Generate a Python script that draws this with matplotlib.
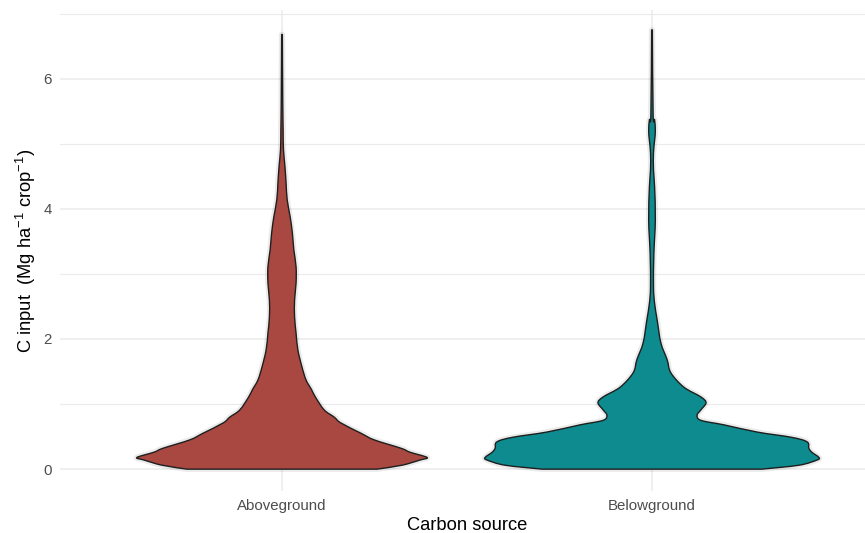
import matplotlib.pyplot as plt
import numpy as np
from matplotlib.path import Path
from matplotlib.patches import PathPatch

plt.rcParams['font.family'] = ['Liberation Sans', 'DejaVu Sans']
plt.rcParams['mathtext.fontset'] = 'custom'
plt.rcParams['mathtext.rm'] = 'Liberation Sans'
plt.rcParams['mathtext.it'] = 'Liberation Sans:italic'

categories = ['Aboveground', 'Belowground']
fill_colors = ['#A94841', '#0D8B8F']

# violin outlines: C input vs half-width (category units)
above_y = [0.00, 0.06, 0.14, 0.18, 0.26, 0.32, 0.45, 0.55, 0.71, 0.80, 0.91,
           1.11, 1.22, 1.37, 1.57, 1.83, 2.09, 2.34, 2.60, 2.86, 3.11, 3.37,
           3.63, 3.88, 4.14, 4.40, 4.65, 4.91, 5.22, 5.68, 6.68]
above_w = [0.257, 0.324, 0.373, 0.392, 0.346, 0.322, 0.249, 0.214, 0.159, 0.141, 0.114,
           0.090, 0.080, 0.065, 0.054, 0.043, 0.038, 0.034, 0.034, 0.038, 0.038, 0.032,
           0.028, 0.022, 0.014, 0.011, 0.008, 0.004, 0.003, 0.002, 0.001]

below_y = [0.00, 0.06, 0.14, 0.18, 0.26, 0.32, 0.42, 0.49, 0.57, 0.68, 0.75,
           0.83, 0.91, 1.02, 1.11, 1.26, 1.48, 1.68, 1.94, 2.29, 2.55, 2.80,
           3.30, 3.83, 4.34, 4.60, 4.86, 5.05, 5.20, 5.37, 5.45, 6.75]
below_w = [0.297, 0.397, 0.446, 0.451, 0.432, 0.424, 0.419, 0.376, 0.284, 0.195, 0.132,
           0.122, 0.132, 0.146, 0.132, 0.086, 0.051, 0.041, 0.024, 0.014, 0.007, 0.004,
           0.005, 0.009, 0.007, 0.004, 0.004, 0.007, 0.009, 0.007, 0.003, 0.001]

profiles = [(above_y, above_w), (below_y, below_w)]


def smooth_segments(pts):
    # catmull-rom through the points, as cubic bezier pieces
    ext = np.vstack([pts[:1], pts, pts[-1:]])
    verts = []
    for k in range(1, len(ext) - 2):
        p0, p1, p2, p3 = ext[k - 1], ext[k], ext[k + 1], ext[k + 2]
        verts += [p1 + (p2 - p0) / 6, p2 - (p3 - p1) / 6, p2]
    return verts


def violin_path(pos, ys, ws):
    ys = np.asarray(ys)
    ws = np.asarray(ws)
    right = np.column_stack([pos + ws, ys])
    left = np.column_stack([pos - ws[::-1], ys[::-1]])
    r_seg = smooth_segments(right)
    l_seg = smooth_segments(left)
    verts = [right[0]] + r_seg + [left[0]] + l_seg + [right[0]]
    codes = ([Path.MOVETO] + [Path.CURVE4] * len(r_seg) + [Path.LINETO]
             + [Path.CURVE4] * len(l_seg) + [Path.CLOSEPOLY])
    return Path(verts, codes)


fig = plt.figure(figsize=(8.65, 5.33), dpi=100)
ax = fig.add_axes([60 / 865, 42 / 533, 814 / 865, 481 / 533])

for i, (ys, ws) in enumerate(profiles):
    path = violin_path(i + 1, ys, ws)
    # soft halo from the jittered points
    ax.add_patch(PathPatch(path, facecolor='none', edgecolor=(0, 0, 0, 0.08),
                           linewidth=4, joinstyle='round', zorder=2))
    ax.add_patch(PathPatch(path, facecolor=fill_colors[i], edgecolor='#1e1e1e',
                           linewidth=1.0, joinstyle='round', zorder=3))

ax.set_xlim(0.4, 2.6)
ax.set_ylim(-0.336, 7.056)
ax.set_xticks([1, 2])
ax.set_xticklabels(categories)
ax.set_yticks([0, 2, 4, 6])
ax.set_yticks([1, 3, 5, 7], minor=True)

ax.grid(True, which='major', color='#EBEBEB', linewidth=1.1, zorder=0)
ax.grid(True, which='minor', axis='y', color='#EBEBEB', linewidth=0.8, zorder=0)
ax.set_axisbelow(True)
for s in ax.spines.values():
    s.set_visible(False)
ax.tick_params(which='both', length=0, labelsize=10.8, labelcolor='#4D4D4D')
ax.tick_params(axis='x', pad=6)
ax.tick_params(axis='y', pad=6)

ax.set_xlabel('Carbon source', fontsize=13.2, labelpad=3)
ax.set_ylabel(r'C input  (Mg ha$^{-1}$ crop$^{-1}$)', fontsize=13.2, labelpad=4)

fig.savefig('out.png', dpi=100)
